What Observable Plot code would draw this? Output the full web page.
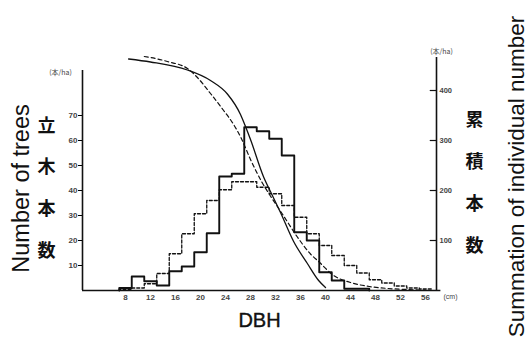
<!DOCTYPE html>
<html><head><meta charset="utf-8">
<script src="https://cdn.jsdelivr.net/npm/d3@7"></script>
<script src="https://cdn.jsdelivr.net/npm/@observablehq/plot@0.6"></script>
<style>
body{margin:0;background:#fff}
#c{width:527px;height:347px}
</style>
</head><body><div id="c"></div>
<script>
// DBH classes (cm, 2 cm wide, centred on even values)
const dbhBins = [8,10,12,14,16,18,20,22,24,26,28,30,32,34,36,38,40,42,44,46,48,50,52,54,56];
// Number of trees per class (本/ha) – solid histogram
const treesSolid = [1,5.6,3.7,2,7.7,9.6,15.3,22.9,45.6,46.7,65.3,63.7,60.7,54,23.3,20,7.3,4,0.7,0.7,null,null,null,null,null];
// Number of trees per class (本/ha) – dashed histogram
const treesDashed = [0.5,1,2.7,6.8,14.7,22.7,30.7,36,40.3,43.5,43.5,41.3,38.7,34,29.3,22.7,18,14,10,7,4.3,3,1.8,1,0.6];
// Summation of individual number (fitted curves, 本/ha)
const sumSolidDbh = [8.5,12,17.9,21.6,24.3,26.4,27.2,28,30.1,31.5,32.8,34.9,37.1,38.9,40];
const sumSolidVal = [463,457,441,420,393,352,328,302,227,190,156,98,54,20,6];
const sumDashedDbh = [11,12,14.7,17.9,19.5,21.6,23.7,25.3,26.5,28,29.9,31.5,33.1,35.5,37.6,38.9,41.3,44,47,50,53,56];
const sumDashedVal = [468,466,458,444,426,394,360,332,305,262,215,183,153,107,73,58,30,16,8,4,2,0.6];
// tick labels
const xTicks = [8,12,16,20,24,28,32,36,40,44,48,52,56];
const leftTicks = [10,20,30,40,50,60,70];
const rightTicks = [100,200,300,400];

const ratio = 5;          // left (本/ha per class) -> right (本/ha cumulative) scale factor
const xMin = 1.12, xMax = 57.76, yMax = 466;

function steps(vals) {
  const pts = [];
  let last = null;
  vals.forEach((v, i) => {
    if (v == null) return;
    if (pts.length === 0) pts.push({x: dbhBins[i] - 1, y: 0});
    pts.push({x: dbhBins[i] - 1, y: v * ratio});
    last = {x: dbhBins[i] + 1, y: v * ratio};
  });
  pts.push(last);
  pts.push({x: last.x, y: 0});
  return pts;
}
const solidSteps = steps(treesSolid);
const dashedSteps = steps(treesDashed);
const solidCurve = sumSolidDbh.map((d, i) => ({x: d, y: sumSolidVal[i]}));
const dashedCurve = sumDashedDbh.map((d, i) => ({x: d, y: sumDashedVal[i]}));

const FONT = "Liberation Sans, Arial, sans-serif";
const JP = "Noto Sans CJK JP, sans-serif";

const chart = Plot.plot({
  width: 527, height: 347,
  marginLeft: 82, marginRight: 91, marginTop: 57, marginBottom: 57,
  style: {fontFamily: FONT, background: "#fff", overflow: "visible"},
  x: {domain: [xMin, xMax]},
  y: {domain: [0, yMax]},
  marks: [
    // histograms
    Plot.line(dashedSteps, {x: "x", y: "y", curve: "step-after", stroke: "#111", strokeWidth: 1.3, strokeDasharray: "3,2"}),
    Plot.line(solidSteps, {x: "x", y: "y", curve: "step-after", stroke: "#111", strokeWidth: 1.9}),
    // cumulative curves
    Plot.line(dashedCurve, {x: "x", y: "y", curve: "monotone-x", stroke: "#111", strokeWidth: 1.2, strokeDasharray: "4,3"}),
    Plot.line(solidCurve, {x: "x", y: "y", curve: "monotone-x", stroke: "#111", strokeWidth: 1.3}),
    // axis lines
    Plot.ruleX([xMin], {y1: 0, y2: 440, stroke: "#111", strokeWidth: 1.6}),
    Plot.ruleX([xMax], {y1: 0, y2: yMax, stroke: "#111", strokeWidth: 1.6}),
    Plot.ruleY([0], {x1: xMin, x2: xMax + 0.7, stroke: "#111", strokeWidth: 1.6}),
    Plot.ruleY(rightTicks, {x1: xMax - 1, x2: xMax, stroke: "#111", strokeWidth: 1.2}),
    // axes
    Plot.axisX({ticks: xTicks, tickSize: 0, tickPadding: 4, fontSize: 8, fontWeight: "bold", fill: "#444", label: null}),
    Plot.axisY({anchor: "left", ticks: leftTicks.map(t => t * ratio), tickFormat: d => d / ratio, tickSize: 4, tickPadding: 1, fontSize: 8, fontWeight: "bold", fill: "#444", label: null}),
    Plot.axisY({anchor: "right", ticks: rightTicks, tickSize: 0, tickPadding: 3, fontSize: 7.5, fontWeight: "bold", fill: "#444", label: null}),
    // annotations
    Plot.text(["(本/ha)"], {frameAnchor: "top-left", textAnchor: "middle", dx: -22, dy: 13, fontSize: 7, fill: "#444", fontFamily: JP}),
    Plot.text(["(本/ha)"], {frameAnchor: "top-right", textAnchor: "middle", dx: 5, dy: -8, fontSize: 7, fill: "#444", fontFamily: JP}),
    Plot.text(["(cm)"], {frameAnchor: "bottom-right", textAnchor: "middle", dx: 14, dy: 8, fontSize: 7, fill: "#444"}),
    Plot.text(["DBH"], {frameAnchor: "bottom", dy: 36, fontSize: 20, fill: "#111", stroke: "#111", strokeWidth: 0.4}),
    Plot.text(["Number of trees"], {frameAnchor: "left", textAnchor: "middle", dx: -61, dy: 14.5, rotate: -90, fontSize: 23.5, fill: "#111"}),
    Plot.text(["Summation of individual number"], {frameAnchor: "right", textAnchor: "middle", dx: 80, dy: 2.5, rotate: -90, fontSize: 22.5, fill: "#111"}),
    Plot.text(["立\n木\n本\n数"], {frameAnchor: "left", textAnchor: "middle", dx: -36, dy: 7, fontSize: 18, fontWeight: "bold", lineHeight: 2.33, fill: "#111", fontFamily: JP}),
    Plot.text(["累\n積\n本\n数"], {frameAnchor: "right", textAnchor: "middle", dx: 38, dy: 1.5, fontSize: 18, fontWeight: "bold", lineHeight: 2.33, fill: "#111", fontFamily: JP})
  ]
});
document.getElementById("c").appendChild(chart);
</script>
</body></html>
